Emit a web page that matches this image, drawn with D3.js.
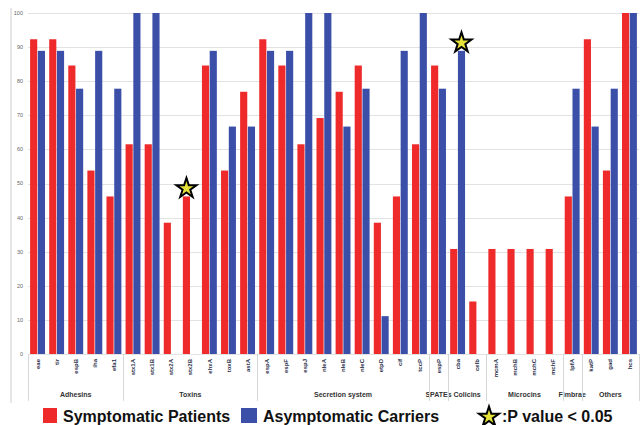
<!DOCTYPE html>
<html>
<head>
<meta charset="utf-8">
<script src="https://cdn.jsdelivr.net/npm/d3@7"></script>
<style>
  body { margin: 0; background: #fff; }
  svg { display: block; font-family: "Liberation Sans", Arial, sans-serif; }
</style>
</head>
<body>
<svg id="chart" width="640" height="425"></svg>
<script>
// genes along the x axis
var genes = ["eae", "tir", "espB", "iha", "efa1",
  "stx1A", "stx1B", "stx2A", "stx2B", "ehxA", "toxB", "astA",
  "espA", "espF", "espJ", "nleA", "nleB", "nleC", "etpD", "cif", "tccP",
  "espP", "cba", "celb", "mcmA", "mchB", "mchC", "mchF",
  "lpfA", "katP", "gad", "hcs"];

// % positive, symptomatic patients
var symptomatic = [92.3, 92.3, 84.6, 53.8, 46.2,
  61.5, 61.5, 38.5, 46.2, 84.6, 53.8, 76.9,
  92.3, 84.6, 61.5, 69.2, 76.9, 84.6, 38.5, 46.2, 61.5,
  84.6, 30.8, 15.4, 30.8, 30.8, 30.8, 30.8,
  46.2, 92.3, 53.8, 100];

// % positive, asymptomatic carriers
var asymptomatic = [88.9, 88.9, 77.8, 88.9, 77.8,
  100, 100, 0, 0, 88.9, 66.7, 66.7,
  88.9, 88.9, 100, 100, 66.7, 77.8, 11.1, 88.9, 100,
  77.8, 88.9, 0, 0, 0, 0, 0,
  77.8, 66.7, 77.8, 100];

// gene groups: name and number of genes
var groups = [["Adhesins", 5], ["Toxins", 7], ["Secretion system", 9], ["SPATEs", 1],
  ["Colicins", 2], ["Microcins", 4], ["Fimbrae", 1], ["Others", 3]];

// significant differences (P < 0.05)
var significant = [["stx2B", "S"], ["cba", "A"]];

var yTicks = [0, 10, 20, 30, 40, 50, 60, 70, 80, 90, 100];

var red = "#ee2a2a", blue = "#3b4fa8";

var svg = d3.select("#chart");

var x = d3.scaleBand().domain(genes).range([28, 639]).paddingInner(0.22).paddingOuter(0.11);
var xs = d3.scaleBand().domain(["S", "A"]).range([0, x.bandwidth()]).paddingInner(0.08);
var y = d3.scaleLinear().domain([0, 100]).range([354, 13]);
var step = x.step();
var x0 = 28;

// left axis line
svg.append("line")
  .attr("x1", 11).attr("x2", 11).attr("y1", 8).attr("y2", 403)
  .attr("stroke", "#ccc");

// grid
svg.append("g").selectAll("line").data(yTicks).join("line")
  .attr("x1", x0).attr("x2", 639)
  .attr("y1", function(d) { return Math.round(y(d)) + 0.5; })
  .attr("y2", function(d) { return Math.round(y(d)) + 0.5; })
  .attr("stroke", "#e2e2e2");

svg.append("g").selectAll("text").data(yTicks).join("text")
  .attr("x", 23).attr("y", function(d) { return y(d); })
  .attr("dy", "0.35em")
  .attr("text-anchor", "end")
  .attr("font-size", 5.5)
  .attr("fill", "#666")
  .text(function(d) { return d; });

// bars
var rows = genes.map(function(g, i) {
  return { gene: g, S: symptomatic[i], A: asymptomatic[i] };
});

var cat = svg.append("g").selectAll("g").data(rows).join("g")
  .attr("transform", function(d) { return "translate(" + x(d.gene) + ",0)"; });

cat.selectAll("rect")
  .data(function(d) { return [{ k: "S", v: d.S }, { k: "A", v: d.A }]; })
  .join("rect")
  .attr("x", function(d) { return xs(d.k); })
  .attr("width", xs.bandwidth())
  .attr("y", function(d) { return y(d.v); })
  .attr("height", function(d) { return y(0) - y(d.v); })
  .attr("fill", function(d) { return d.k == "S" ? red : blue; });

// gene labels
svg.append("g").selectAll("text").data(genes).join("text")
  .attr("transform", function(d) {
    return "translate(" + (x(d) + x.bandwidth() / 2) + ",359)rotate(-90)";
  })
  .attr("text-anchor", "end")
  .attr("dy", "0.35em")
  .attr("font-size", 6)
  .attr("font-weight", "bold")
  .attr("fill", "#2a2f4a")
  .text(function(d) { return d; });

// group separators and labels
var start = 0;
var bounds = [0];
groups.forEach(function(g) {
  var a = x0 + start * step, b = x0 + (start + g[1]) * step;
  svg.append("text")
    .attr("x", (a + b) / 2).attr("y", 397)
    .attr("text-anchor", "middle")
    .attr("font-size", 7)
    .attr("font-weight", "bold")
    .attr("fill", "#333")
    .text(g[0]);
  start += g[1];
  bounds.push(start);
});

svg.append("g").selectAll("line").data(bounds).join("line")
  .attr("x1", function(d) { return Math.round(x0 + d * step) + 0.5; })
  .attr("x2", function(d) { return Math.round(x0 + d * step) + 0.5; })
  .attr("y1", 354).attr("y2", 401)
  .attr("stroke", "#d6d6d6");

// stars
var star = d3.symbol().type(d3.symbolStar).size(125);

svg.append("g").selectAll("path").data(significant).join("path")
  .attr("d", star)
  .attr("transform", function(d) {
    var i = genes.indexOf(d[0]);
    var v = d[1] == "S" ? symptomatic[i] : asymptomatic[i];
    return "translate(" + (x(d[0]) + xs(d[1]) + xs.bandwidth() / 2) + "," + (y(v) - 8) + ")";
  })
  .attr("fill", "#e6e23a")
  .attr("stroke", "#000")
  .attr("stroke-width", 2)
  .attr("stroke-linejoin", "miter");

// legend
var leg = svg.append("g").attr("font-size", 16).attr("font-weight", "bold").attr("fill", "#111");

leg.append("rect").attr("x", 43).attr("y", 408).attr("width", 14).attr("height", 15).attr("fill", red);
leg.append("text").attr("x", 63).attr("y", 422).text("Symptomatic Patients");

leg.append("rect").attr("x", 241).attr("y", 408).attr("width", 16).attr("height", 15).attr("fill", blue);
leg.append("text").attr("x", 263).attr("y", 422).text("Asymptomatic Carriers");

leg.append("path").attr("d", star)
  .attr("transform", "translate(489,417)")
  .attr("fill", "#e6e23a").attr("stroke", "#000").attr("stroke-width", 2);
leg.append("text").attr("x", 502).attr("y", 422).text(":P value < 0.05");
</script>
</body>
</html>
